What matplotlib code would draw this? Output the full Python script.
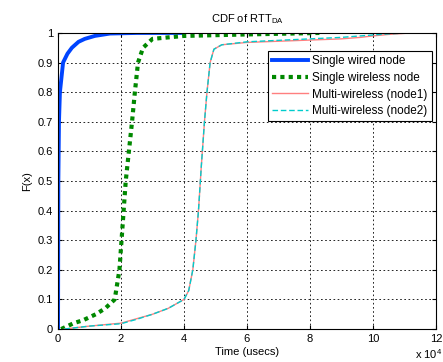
import numpy as np
import matplotlib.pyplot as plt
from matplotlib.ticker import FuncFormatter, MultipleLocator

plt.rcParams['font.family'] = ['Liberation Sans', 'DejaVu Sans']
plt.rcParams['font.size'] = 8

# CDF points (time in usecs, F(x))
wired_t = [0, 100, 300, 600, 1600, 3000, 4400, 6500, 8500, 11700, 16500, 25000, 40000]
wired_f = [0.0, 0.5, 0.7, 0.8, 0.9, 0.93, 0.95, 0.97, 0.98, 0.99, 0.998, 1.0, 1.0]

wless_t = [1000, 3000, 5000, 8000, 12000, 15000, 18000, 19500, 20500, 21500, 22500,
           23500, 24400, 25400, 27000, 30000, 40000, 60000, 83000]
wless_f = [0.0, 0.01, 0.02, 0.03, 0.05, 0.07, 0.1, 0.2, 0.35, 0.5, 0.6,
           0.7, 0.8, 0.9, 0.95, 0.98, 0.99, 0.995, 1.0]

multi1_t = [2000, 6000, 10000, 20000, 25000, 30000, 35000, 40000, 41500, 42800, 43800,
            44600, 45500, 46500, 47300, 48300, 49500, 52000, 60000, 70000, 80000, 90000,
            96000, 100000, 105000, 112000, 120000]
multi1_f = [0.0, 0.005, 0.01, 0.02, 0.035, 0.05, 0.07, 0.1, 0.13, 0.2, 0.3,
            0.4, 0.55, 0.7, 0.8, 0.9, 0.945, 0.96, 0.968, 0.972, 0.976, 0.98,
            0.985, 0.99, 0.995, 1.0, 1.0]

multi2_t = [2000, 6000, 10000, 20000, 25000, 30000, 35000, 40000, 41500, 42800, 43800,
            44600, 45500, 46500, 47300, 48300, 49500, 52000, 60000, 70000, 80000, 90000,
            96000, 100000, 105000, 112000, 120000]
multi2_f = [0.0, 0.005, 0.01, 0.018, 0.033, 0.05, 0.07, 0.1, 0.13, 0.2, 0.3,
            0.4, 0.55, 0.7, 0.8, 0.9, 0.945, 0.96, 0.97, 0.975, 0.98, 0.985,
            0.99, 0.993, 0.997, 1.0, 1.0]

fig = plt.figure(figsize=(4.43, 3.62), dpi=100)
ax = fig.add_axes([0.131, 0.091, 0.853, 0.818])

ax.plot(wired_t, wired_f, color='#0044ff', lw=2.8, label='Single wired node')
ax.plot(wless_t, wless_f, color='#008800', lw=3, ls=(0, (1, 1)), label='Single wireless node')
ax.plot(multi1_t, multi1_f, color='#ff7f7f', lw=1, label='Multi-wireless (node1)')
ax.plot(multi2_t, multi2_f, color='#00cccc', lw=1, ls=(0, (4, 2)), label='Multi-wireless (node2)')

ax.set_xlim(0, 120000)
ax.set_ylim(0, 1)
ax.xaxis.set_major_locator(MultipleLocator(20000))
ax.yaxis.set_major_locator(MultipleLocator(0.1))
ax.xaxis.set_major_formatter(FuncFormatter(lambda v, p: '%g' % (v / 1e4)))
ax.yaxis.set_major_formatter(FuncFormatter(lambda v, p: '%g' % round(v, 1)))
ax.tick_params(direction='in', top=True, right=True, length=3)
ax.grid(True, color='black', ls=(0, (2, 3)), lw=0.6)

ax.set_title('CDF of RTT$_{\\mathregular{DA}}$', fontsize=8, pad=8)
ax.set_xlabel('Time (usecs)', labelpad=2)
ax.set_ylabel('F(x)')
fig.text(0.998, 0.002, 'x 10$^{\\mathregular{4}}$', ha='right', va='bottom')

leg = ax.legend(loc='upper right', bbox_to_anchor=(0.989, 0.939), fancybox=False,
                edgecolor='black', framealpha=1, fontsize=8.5, handlelength=3.0,
                handletextpad=0.4, borderpad=0.35, labelspacing=0.4,
                borderaxespad=0)
leg.get_frame().set_linewidth(0.8)

fig.savefig('out.png', dpi=100)
